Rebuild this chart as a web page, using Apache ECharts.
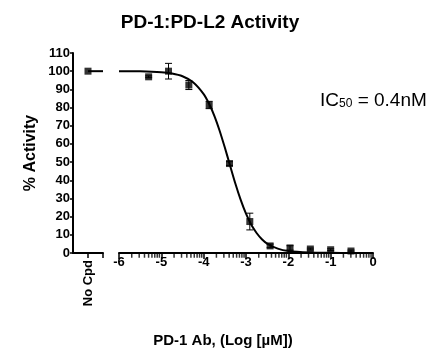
<!DOCTYPE html>
<html><head><meta charset="utf-8">
<script src="https://cdn.jsdelivr.net/npm/echarts@6/dist/echarts.min.js"></script>
<style>html,body{margin:0;padding:0;background:#fff}#c{width:436px;height:355px}</style>
</head><body><div id="c"></div>
<script>
const titleText = 'PD-1:PD-L2 Activity';
const xAxisTitle = 'PD-1 Ab, (Log [µM])';
const yAxisTitle = '% Activity';
const noCpdLabel = 'No Cpd';
const ic50Label = ['IC', '50', ' = 0.4nM'];
const xMin = -6, xMax = 0, xStep = 1;
const yMin = 0, yMax = 110, yStep = 10;
// No compound control
const noCpdValue = 100;
const noCpdCurveLevel = 100;
// Measured points (log µM), mean % activity, error
const logConc = [-5.30, -4.83, -4.35, -3.87, -3.39, -2.91, -2.43, -1.96, -1.48, -1.00, -0.52];
const activity = [96.9, 100.0, 92.4, 81.4, 49.2, 17.3, 3.9, 2.8, 2.2, 1.8, 1.1];
const errBar = [0.5, 4.3, 2.5, 2.0, 1.0, 4.6, 1.0, 1.2, 0.5, 0.5, 0.5];
// Fitted curve
const curveX = [-6, -5.5, -5, -4.75, -4.5, -4.25, -4, -3.875, -3.75, -3.625, -3.5, -3.375, -3.25, -3.125, -3, -2.875, -2.75, -2.625, -2.5, -2.25, -2, -1.5, -1, -0.5, 0];
const curveY = [100, 99.9, 99.4, 98.7, 97.2, 93.9, 87.4, 82.2, 75.6, 67.4, 58.0, 48.0, 38.1, 29.2, 21.6, 15.5, 11.0, 7.6, 5.2, 2.4, 1.1, 0.3, 0.1, 0, 0];
// log-axis minor tick multiples within each decade
const minorMultiples = [2, 3, 4, 5, 6, 7, 8, 9];

const FF = "'Liberation Sans', Arial, sans-serif";
const minorTicks = [];
for (let d = xMin; d < xMax; d++) minorMultiples.forEach(m => minorTicks.push([d + Math.log10(m), yMin]));

const chart = echarts.init(document.getElementById('c'), null, {renderer: 'canvas'});
const axisLineStyle = {color: '#000', width: 2};
const option = {
  animation: false,
  backgroundColor: '#fff',
  title: [{
    text: '{a|' + ic50Label[0] + '}{b|' + ic50Label[1] + '}{a|' + ic50Label[2] + '}',
    left: 315, top: 83,
    textStyle: {fontWeight: 'normal', rich: {
      a: {fontFamily: FF, fontSize: 19, fontWeight: 'normal', color: '#000', lineHeight: 22, verticalAlign: 'bottom'},
      b: {fontFamily: FF, fontSize: 12, fontWeight: 'normal', color: '#000', lineHeight: 12, verticalAlign: 'bottom'}
    }}
  }],
  graphic: [
    {type: 'text', x: 210, y: 23, style: {text: titleText, font: 'bold 19px ' + FF, fill: '#000', align: 'center', verticalAlign: 'middle'}},
    {type: 'text', x: 223, y: 341, style: {text: xAxisTitle, font: 'bold 15px ' + FF, fill: '#000', align: 'center', verticalAlign: 'middle'}}
  ],
  grid: [
    {left: 73, width: 30, top: 53, height: 200},
    {left: 119, width: 254, top: 53, height: 200}
  ],
  xAxis: [
    {gridIndex: 0, type: 'value', min: 0, max: 1,
     axisLine: {show: true, onZero: false, lineStyle: axisLineStyle},
     axisTick: {show: true, customValues: [0.5, 1], length: 5, lineStyle: {color: '#000', width: 1.5}},
     axisLabel: {customValues: [0.5], formatter: () => noCpdLabel, rotate: 90, margin: 7,
       fontFamily: FF, fontWeight: 'bold', fontSize: 13, color: '#000'},
     splitLine: {show: false}},
    {gridIndex: 1, type: 'value', min: xMin, max: xMax, interval: xStep,
     axisLine: {show: true, onZero: false, lineStyle: axisLineStyle},
     axisTick: {show: true, length: 6, lineStyle: {color: '#000', width: 1.5}},
     axisLabel: {showMinLabel: true, showMaxLabel: true, margin: 3,
       fontFamily: FF, fontWeight: 'bold', fontSize: 13, color: '#000'},
     splitLine: {show: false}}
  ],
  yAxis: [
    {gridIndex: 0, type: 'value', min: yMin, max: yMax, interval: yStep,
     name: yAxisTitle, nameLocation: 'middle', nameGap: 34,
     nameTextStyle: {fontFamily: FF, fontWeight: 'bold', fontSize: 16, color: '#000'},
     axisLine: {show: true, lineStyle: axisLineStyle},
     axisTick: {show: true, length: 3, lineStyle: {color: '#000', width: 1.5}},
     axisLabel: {margin: 3, fontFamily: FF, fontWeight: 'bold', fontSize: 13, color: '#000'},
     splitLine: {show: false}},
    {gridIndex: 1, type: 'value', min: yMin, max: yMax, interval: yStep, show: false, splitLine: {show: false}}
  ],
  series: [
    {type: 'line', xAxisIndex: 0, yAxisIndex: 0, data: [[0.5, noCpdCurveLevel], [1, noCpdCurveLevel]],
     showSymbol: false, lineStyle: {color: '#000', width: 2}, silent: true, z: 3},
    {type: 'scatter', xAxisIndex: 0, yAxisIndex: 0, data: [[0.5, noCpdValue]],
     symbol: 'rect', symbolSize: 7, itemStyle: {color: '#000'}, z: 5},
    {type: 'scatter', xAxisIndex: 1, yAxisIndex: 1, data: minorTicks, silent: true,
     symbol: 'rect', symbolSize: [1.5, 4.5], symbolOffset: [0, 2.5], itemStyle: {color: '#000'}, z: 6},
    {type: 'line', xAxisIndex: 1, yAxisIndex: 1, data: curveX.map((x, i) => [x, curveY[i]]),
     smooth: 0.3, showSymbol: false, lineStyle: {color: '#000', width: 2}, silent: true, z: 3},
    {type: 'custom', xAxisIndex: 1, yAxisIndex: 1, silent: true,
     data: logConc.map((x, i) => [x, activity[i] - errBar[i], activity[i] + errBar[i]]),
     renderItem: (params, api) => {
       const lo = api.coord([api.value(0), api.value(1)]);
       const hi = api.coord([api.value(0), api.value(2)]);
       const w = 3.5;
       const st = {stroke: '#000', lineWidth: 1};
       return {type: 'group', children: [
         {type: 'line', shape: {x1: lo[0], y1: lo[1], x2: hi[0], y2: hi[1]}, style: st},
         {type: 'line', shape: {x1: lo[0] - w, y1: lo[1], x2: lo[0] + w, y2: lo[1]}, style: st},
         {type: 'line', shape: {x1: hi[0] - w, y1: hi[1], x2: hi[0] + w, y2: hi[1]}, style: st}
       ]};
     }, z: 4},
    {type: 'scatter', xAxisIndex: 1, yAxisIndex: 1, data: logConc.map((x, i) => [x, activity[i]]),
     symbol: 'rect', symbolSize: 7, itemStyle: {color: '#000'}, z: 5}
  ]
};
chart.setOption(option);
</script></body></html>
